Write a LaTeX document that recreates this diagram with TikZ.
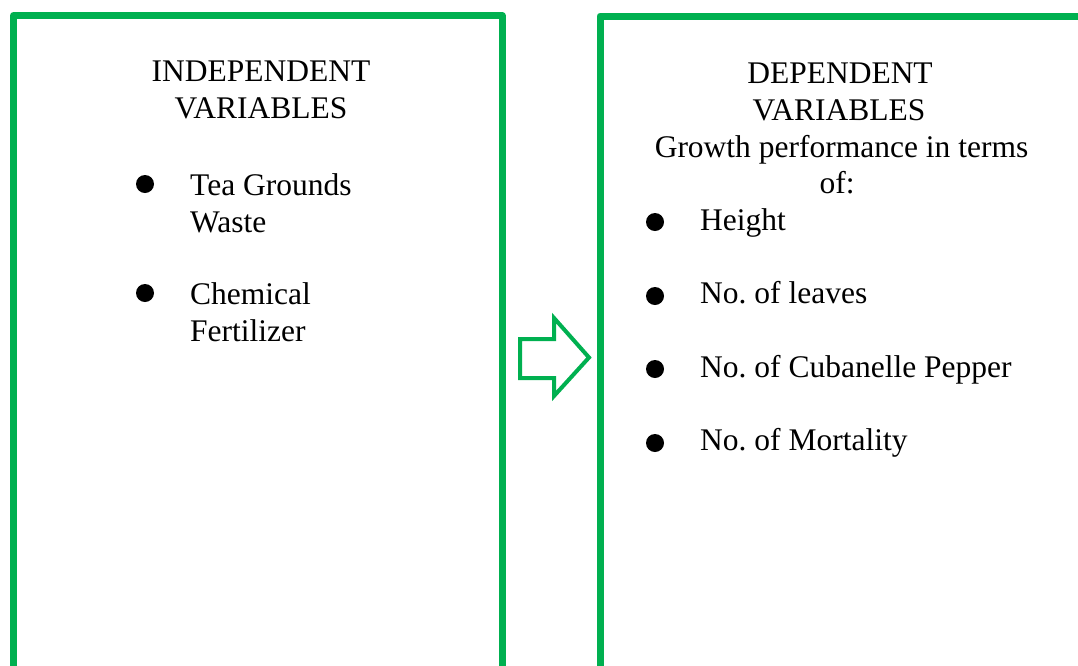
\documentclass[tikz,border=0pt]{standalone}
\usepackage{fontspec}
\setmainfont{Liberation Serif}
\frenchspacing
\definecolor{boxgreen}{HTML}{00B050}
\begin{document}
\begin{tikzpicture}[x=1pt,y=-1pt,
  frame/.style={draw=boxgreen,line width=7pt,line join=round},
  blockarrow/.style={draw=boxgreen,line width=4pt,line join=miter,fill=white},
  txt/.style={inner sep=0pt,anchor=base,font=\fontsize{31.5pt}{37pt}\selectfont},
  itemtxt/.style={txt,anchor=base west},
  dot/.style={fill=black}]
\useasboundingbox (0,0) rectangle (1078,665);
\clip (0,0) rectangle (1078,665);
% boxes
\draw[frame] (13.5,700) -- (13.5,15.5) -- (502,15.5) -- (502,700);
\draw[frame] (600,700) -- (600,16) -- (1100,16);
% arrow
\draw[blockarrow] (520,339) -- (554,339) -- (554,318) -- (589,357.5) -- (554,396) -- (554,378) -- (520,378) -- cycle;
% left texts
\node[txt] (l1) at (261,81) {INDEPENDENT};
\node[txt] (l2) at (261,118) {VARIABLES};
\fill[dot] (145,184) circle (9);
\node[itemtxt] (a1) at (190,195) {Tea Grounds};
\node[itemtxt] (a2) at (190,232) {Waste};
\fill[dot] (145,293) circle (9);
\node[itemtxt] (b1) at (190,304) {Chemical};
\node[itemtxt] (b2) at (190,341) {Fertilizer};
% right texts
\node[txt] (r1) at (840,83) {DEPENDENT};
\node[txt] (r2) at (839,120) {VARIABLES};
\node[txt] (r3) at (841.5,157) {Growth performance in terms};
\node[txt] (r4) at (837,193) {of:};
\fill[dot] (655,222) circle (9);
\node[itemtxt] (c1) at (700,230) {Height};
\fill[dot] (655,296) circle (9);
\node[itemtxt] (c2) at (700,303) {No. of leaves};
\fill[dot] (655,369) circle (9);
\node[itemtxt] (c3) at (700,377) {No. of Cubanelle Pepper};
\fill[dot] (655,443) circle (9);
\node[itemtxt] (c4) at (700,450) {No. of Mortality};
\end{tikzpicture}
\end{document}
